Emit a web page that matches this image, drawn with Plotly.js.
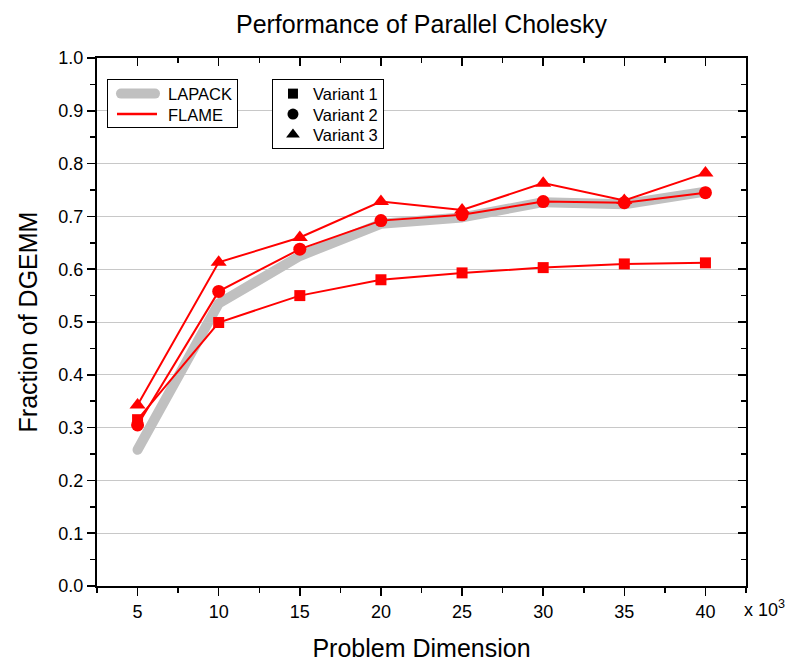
<!DOCTYPE html>
<html>
<head>
<meta charset="utf-8">
<script src="https://cdn.plot.ly/plotly-3.0.1.min.js"></script>
<style>html,body{margin:0;padding:0;background:#fff;}#chart{width:790px;height:662px;}</style>
</head>
<body>
<div id="chart"></div>
<script>
const dims = [5, 10, 15, 20, 25, 30, 35, 40];
const lapack = [0.258, 0.535, 0.625, 0.686, 0.698, 0.727, 0.723, 0.747];
const variant1 = [0.315, 0.499, 0.550, 0.580, 0.593, 0.603, 0.610, 0.612];
const variant2 = [0.305, 0.558, 0.638, 0.692, 0.703, 0.728, 0.726, 0.745];
const variant3 = [0.343, 0.613, 0.660, 0.728, 0.712, 0.763, 0.730, 0.782];
const seriesNames = ['LAPACK', 'FLAME', 'Variant 1', 'Variant 2', 'Variant 3'];
const yTicks = [0, 0.1, 0.2, 0.3, 0.4, 0.5, 0.6, 0.7, 0.8, 0.9, 1.0];

const FONT = 'Arial, "Liberation Sans", sans-serif';
const RED = '#ff0000';

const traces = [
  {x: dims, y: lapack, name: seriesNames[0], mode: 'lines', line: {color: '#c0c0c0', width: 10}, legend: 'legend'},
  {x: [null], y: [null], name: seriesNames[1], mode: 'lines', line: {color: RED, width: 2.5}, legend: 'legend'},
  {x: dims, y: variant1, name: seriesNames[2], mode: 'lines+markers', line: {color: RED, width: 2}, marker: {symbol: 'square', size: 11, color: RED}, showlegend: false},
  {x: dims, y: variant2, name: seriesNames[3], mode: 'lines+markers', line: {color: RED, width: 2}, marker: {symbol: 'circle', size: 13, color: RED}, showlegend: false},
  {x: dims, y: variant3, name: seriesNames[4], mode: 'lines+markers', line: {color: RED, width: 2}, marker: {symbol: 'triangle-up', size: 14, color: RED}, showlegend: false},
  {x: [null], y: [null], name: seriesNames[2], mode: 'markers', marker: {symbol: 'square', size: 10, color: '#000'}, legend: 'legend2'},
  {x: [null], y: [null], name: seriesNames[3], mode: 'markers', marker: {symbol: 'circle', size: 11, color: '#000'}, legend: 'legend2'},
  {x: [null], y: [null], name: seriesNames[4], mode: 'markers', marker: {symbol: 'triangle-up', size: 12, color: '#000'}, legend: 'legend2'},
  {x: [null], y: [null], xaxis: 'x2', yaxis: 'y2', mode: 'markers', showlegend: false, hoverinfo: 'skip'}
];

const layout = {
  width: 790, height: 662,
  margin: {l: 97, r: 44, t: 58, b: 76},
  paper_bgcolor: '#fff', plot_bgcolor: '#fff',
  font: {family: FONT, color: '#000', size: 18},
  showlegend: true,
  title: {text: 'Performance of Parallel Cholesky', font: {family: FONT, size: 25, color: '#000'}, x: 0.5335, xanchor: 'center', y: 0.963, yanchor: 'middle'},
  xaxis: {
    range: [2.5, 42.5], tick0: 5, dtick: 5, ticks: 'outside', ticklen: 8, tickwidth: 1.5, tickcolor: '#000',
    showline: true, linewidth: 2, linecolor: '#000', showgrid: false, zeroline: false,
    minor: {ticks: 'outside', ticklen: 5, tickwidth: 1.5, dtick: 2.5, tick0: 0, tickcolor: '#000', showgrid: false},
    tickfont: {family: FONT, size: 18},
    title: {text: 'Problem Dimension', font: {family: FONT, size: 25}, standoff: 23}
  },
  xaxis2: {
    overlaying: 'x', side: 'top', range: [2.5, 42.5], tick0: 5, dtick: 5, ticks: 'inside', ticklen: 8, tickwidth: 1.5, tickcolor: '#000',
    showline: true, linewidth: 2, linecolor: '#000', showgrid: false, zeroline: false, showticklabels: false,
    minor: {ticks: 'inside', ticklen: 5, tickwidth: 1.5, dtick: 2.5, tick0: 0, tickcolor: '#000', showgrid: false}
  },
  yaxis: {
    range: [0, 1], tickvals: yTicks, tickformat: '.1f', ticks: 'outside', ticklen: 8, tickwidth: 1.5, tickcolor: '#000',
    showline: true, linewidth: 2, linecolor: '#000', showgrid: true, gridcolor: '#c8c8c8', gridwidth: 1, zeroline: false,
    minor: {ticks: 'outside', ticklen: 5, tickwidth: 1.5, dtick: 0.05, tick0: 0, tickcolor: '#000', showgrid: false},
    tickfont: {family: FONT, size: 18},
    title: {text: 'Fraction of DGEMM', font: {family: FONT, size: 25}, standoff: 14}
  },
  yaxis2: {
    overlaying: 'y', side: 'right', range: [0, 1], dtick: 0.1, ticks: 'inside', ticklen: 8, tickwidth: 1.5, tickcolor: '#000',
    showline: true, linewidth: 2, linecolor: '#000', showgrid: false, zeroline: false, showticklabels: false,
    minor: {ticks: 'inside', ticklen: 5, tickwidth: 1.5, dtick: 0.05, tick0: 0, tickcolor: '#000', showgrid: false}
  },
  legend: {
    x: 0.0154, y: 0.96, xanchor: 'left', yanchor: 'top', bgcolor: '#fff', bordercolor: '#000', borderwidth: 1,
    font: {family: FONT, size: 16.5}, tracegroupgap: 0, itemwidth: 50
  },
  legend2: {
    x: 0.2696, y: 0.96, xanchor: 'left', yanchor: 'top', bgcolor: '#fff', bordercolor: '#000', borderwidth: 1,
    font: {family: FONT, size: 16.5}, tracegroupgap: 0, itemwidth: 30
  },
  annotations: [
    {text: 'x 10<sup>3</sup>', xref: 'paper', yref: 'paper', x: 1, y: -0.043, xanchor: 'left', yanchor: 'middle', showarrow: false, xshift: -4, font: {family: FONT, size: 18}}
  ]
};

function tightenLegends(gd) {
  const groups = gd.querySelectorAll('.infolayer > g');
  groups.forEach(function (lg) {
    const cls = lg.getAttribute('class') || '';
    if (!/^legend\d*$/.test(cls)) return;
    const items = lg.querySelectorAll('g.traces');
    if (!items.length) return;
    const step = 20.5, first = 14.5, bottomPad = 13;
    items.forEach(function (it, i) {
      const m = /translate\(\s*([-\d.]+)[ ,]+([-\d.]+)\s*\)/.exec(it.getAttribute('transform') || '');
      const tx = m ? parseFloat(m[1]) : 0;
      it.setAttribute('transform', 'translate(' + tx + ',' + (first + i * step) + ')');
    });
    const h = first + (items.length - 1) * step + bottomPad;
    const bg = lg.querySelector('rect.bg');
    if (bg) bg.setAttribute('height', h);
  });
}

Plotly.newPlot('chart', traces, layout, {displayModeBar: false, staticPlot: true}).then(function (gd) {
  const lines = gd.querySelectorAll('.scatterlayer .trace path.js-line');
  if (lines.length) { lines[0].style.strokeLinecap = 'round'; lines[0].style.strokeLinejoin = 'round'; }
  gd.querySelectorAll('.legend .traces path.js-line').forEach(function (p, i) {
    if (i === 0) { p.style.strokeLinecap = 'round'; p.setAttribute('d', 'M13,0h34'); }
    else { p.setAttribute('d', 'M9,0h40'); }
  });
  tightenLegends(gd);
});
</script>
</body>
</html>
